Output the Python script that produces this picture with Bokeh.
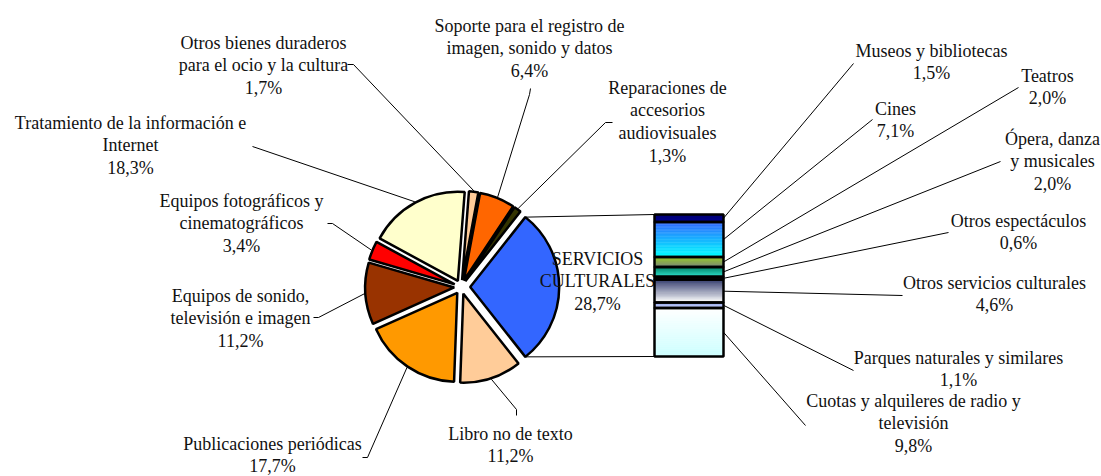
import math
from bokeh.plotting import figure
from bokeh.models import Range1d
from bokeh.core.properties import value
from bokeh.embed import file_html
from bokeh.resources import INLINE

# ---------------- data ----------------
# main pie, clockwise order starting near 12 o'clock
pie_labels = [
    ["Otros bienes duraderos", "para el ocio y la cultura"],
    ["Soporte para el registro de", "imagen, sonido y datos"],
    ["Reparaciones de", "accesorios", "audiovisuales"],
    ["SERVICIOS", "CULTURALES"],
    ["Libro no de texto"],
    ["Publicaciones periódicas"],
    ["Equipos de sonido,", "televisión e imagen"],
    ["Equipos fotográficos y", "cinematográficos"],
    ["Tratamiento de la información e", "Internet"],
]
pie_values = [1.7, 6.4, 1.3, 28.7, 11.2, 17.7, 11.2, 3.4, 18.3]
pie_colors = ["#FFCC99", "#FF6600", "#333300", "#3366FF", "#FFCC99",
              "#FF9900", "#993300", "#FF0000", "#FFFFCC"]
other_index = 3  # slice broken out into the bar

# breakdown bar of "SERVICIOS CULTURALES", top to bottom
bar_labels = [
    ["Museos y bibliotecas"],
    ["Cines"],
    ["Teatros"],
    ["Ópera, danza", "y musicales"],
    ["Otros espectáculos"],
    ["Otros servicios culturales"],
    ["Parques naturales y similares"],
    ["Cuotas y alquileres de radio y", "televisión"],
]
bar_values = [1.5, 7.1, 2.0, 2.0, 0.6, 4.6, 1.1, 9.8]
bar_colors = [("#000070", "#000090"), ("#3366FF", "#00FFFF"), ("#99CC22", "#7A8A78"),
              ("#007A5E", "#2EE0CC"), ("#000000", "#1A1A1A"), ("#2A3366", "#FFFFFF"),
              ("#8C9EEA", "#CCD6FF"), ("#FFFFFF", "#CCFFFF")]


def pct(v):
    return f"{v:.1f}".replace(".", ",") + "%"


# ---------------- layout (pixel-like coordinates) ----------------
W, H = 1101, 476
IMG_H = 476


def Y(yimg):
    return IMG_H - yimg


p = figure(width=W, height=H, output_backend="svg", toolbar_location=None,
           x_range=Range1d(0, W), y_range=Range1d(IMG_H - H, IMG_H),
           min_border=0, outline_line_color=None)
p.axis.visible = False
p.grid.visible = False

FONT = value("'Liberation Serif', serif")
FS = "18px"
LH = 22.8

CX, CY = 460.7, Y(286.5)
R = 89
EXPL = 7
EXPL_OTHER = 9

total = sum(pie_values)
k = 2 * math.pi / total
cum_before_other = sum(pie_values[:other_index])
theta0 = (cum_before_other + pie_values[other_index] / 2) * k

# label anchors (layout): text center x, first-line y, leader path start points
pie_label_pos = [(263, 42), (529, 25), (667, 87), (597, 258), (510, 433),
                 (272, 443), (240, 295), (241, 200), (130, 122)]
pie_leader_start = [
    [(347, 64), (353, 64)],
    [(530, 88), (529, 94)],
    [(612, 122), (605, 122)],
    None,
    [(516, 415), (516, 409)],
    [(362, 457), (367, 457)],
    [(313, 317), (318, 317)],
    [(327, 223), (332, 223)],
    [(252, 146)],
]

bar_x0, bar_x1 = 654, 723
bar_top, bar_bot = Y(214), Y(356)

wx, wy, sa, ea, fc = [], [], [], [], []
cum = 0.0
other_corners = None
leader_xs, leader_ys = [], []
for i, v in enumerate(pie_values):
    hi = theta0 - cum * k
    lo = hi - v * k
    mid = (hi + lo) / 2
    e = EXPL_OTHER if i == other_index else EXPL
    x = CX + e * math.cos(mid)
    y = CY + e * math.sin(mid)
    wx.append(x); wy.append(y); sa.append(lo); ea.append(hi); fc.append(pie_colors[i])
    if i == other_index:
        other_corners = ((x + R * math.cos(hi), y + R * math.sin(hi)),
                         (x + R * math.cos(lo), y + R * math.sin(lo)))
    else:
        tx = x + (R + 1) * math.cos(mid)
        ty = y + (R + 1) * math.sin(mid)
        pts = pie_leader_start[i]
        leader_xs.append([pt[0] for pt in pts] + [tx])
        leader_ys.append([Y(pt[1]) for pt in pts] + [ty])
    cum += v

# connectors from the broken-out slice to the bar
(tcx, tcy), (bcx, bcy) = other_corners
p.multi_line(xs=[[tcx, bar_x0], [bcx, bar_x0]], ys=[[tcy, bar_top], [bcy, bar_bot]],
             line_color="black", line_width=1)

p.wedge(x=wx, y=wy, radius=R, start_angle=sa, end_angle=ea, direction="anticlock",
        fill_color=fc, line_color="black", line_width=2.5)

tx_, ty_, tt_ = [], [], []
for i, lines in enumerate(pie_labels):
    cxl, y0 = pie_label_pos[i]
    for j, s in enumerate(lines + [pct(pie_values[i])]):
        tx_.append(cxl); ty_.append(Y(y0 + j * LH)); tt_.append(s)

# the inside label sits behind the bar -> pie texts drawn before the bar
p.text(x=tx_, y=ty_, text=tt_, text_align="center", text_baseline="middle",
       text_font=FONT, text_font_size=FS, text_color="#111111")

# stacked bar with vertical gradients
btotal = sum(bar_values)
scale = (bar_top - bar_bot) / btotal
NSUB = 24
gl, gr, gt, gb, gc = [], [], [], [], []
ol, orr, ot, ob = [], [], [], []
seg_mid = []
c = 0.0


def mix(c1, c2, t):
    a = [int(c1[i:i + 2], 16) for i in (1, 3, 5)]
    b = [int(c2[i:i + 2], 16) for i in (1, 3, 5)]
    return "#%02x%02x%02x" % tuple(round(a[m] + (b[m] - a[m]) * t) for m in range(3))


for i, v in enumerate(bar_values):
    top = bar_top - c * scale
    bot = top - v * scale
    seg_mid.append((top + bot) / 2)
    ol.append(bar_x0); orr.append(bar_x1); ot.append(top); ob.append(bot)
    c1, c2 = bar_colors[i]
    for s in range(NSUB):
        t0 = top + (bot - top) * s / NSUB
        t1 = top + (bot - top) * (s + 1) / NSUB
        gl.append(bar_x0); gr.append(bar_x1); gt.append(t0); gb.append(t1)
        gc.append(mix(c1, c2, (s + 0.5) / NSUB))
    c += v

p.quad(left=gl, right=gr, top=gt, bottom=gb, fill_color=gc, line_color=gc, line_width=0.5)
p.quad(left=ol, right=orr, top=ot, bottom=ob, fill_color=None, line_color="black", line_width=2.5)

bar_label_pos = [(931, 50), (895, 108), (1047, 75), (1052, 138), (1018, 220),
                 (994, 282), (958, 357), (913, 400)]
bar_leader_start = [(853, 63), (872, 119), (1018, 87), (1000, 161), (948, 232),
                    (902, 295), (853, 370), (805, 425)]
for i in range(len(bar_values)):
    sx, sy = bar_leader_start[i]
    leader_xs.append([sx, bar_x1])
    leader_ys.append([Y(sy), seg_mid[i]])

p.multi_line(xs=leader_xs, ys=leader_ys, line_color="black", line_width=1)

bx_, by_, bt_ = [], [], []
for i, lines in enumerate(bar_labels):
    cxl, y0 = bar_label_pos[i]
    for j, s in enumerate(lines + [pct(bar_values[i])]):
        bx_.append(cxl); by_.append(Y(y0 + j * LH)); bt_.append(s)
p.text(x=bx_, y=by_, text=bt_, text_align="center", text_baseline="middle",
       text_font=FONT, text_font_size=FS, text_color="#111111")

open("out.html", "w").write(file_html(p, INLINE))
